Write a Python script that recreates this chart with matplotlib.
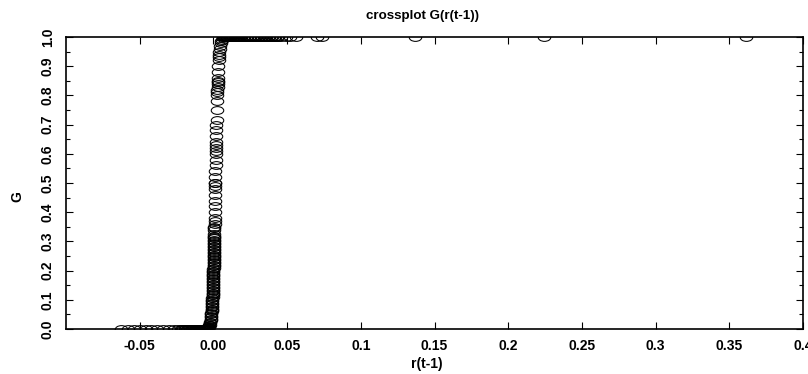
import matplotlib
matplotlib.use("Agg")
import matplotlib.pyplot as plt
from matplotlib.path import Path
from matplotlib.ticker import MultipleLocator, FixedLocator, FixedFormatter

plt.rcParams['font.family'] = ['Liberation Sans', 'DejaVu Sans']

# G close to 0, left side
r_low = [-0.0625, -0.058, -0.054, -0.050, -0.046, -0.042, -0.038, -0.034, -0.030,
         -0.027, -0.024, -0.022, -0.021, -0.0205, -0.0195, -0.019, -0.018, -0.0178,
         -0.017, -0.0165, -0.016, -0.0153, -0.0148, -0.0142, -0.0136, -0.0131, -0.0125,
         -0.012, -0.0115, -0.011, -0.0105, -0.0101, -0.0096, -0.0092, -0.0088, -0.0083,
         -0.0079, -0.0075, -0.0071, -0.0067, -0.0063, -0.006, -0.0056, -0.0053, -0.005,
         -0.0047, -0.0044, -0.0041]
g_low = [0.0] * len(r_low)

# transition column
r_mid = [-0.0036, -0.0029, -0.0023, -0.0019, -0.0016, -0.0014, -0.0012, -0.0011,
         -0.0009, -0.0008, -0.0007, -0.0005, -0.0004, -0.0002, -0.0001, 0.0000,
         0.0001, 0.0002, 0.0003, 0.0004, 0.0005, 0.0006, 0.0007, 0.0008, 0.0008,
         0.0009, 0.0010, 0.0011, 0.0012, 0.0012, 0.0013, 0.0014, 0.0014,
         0.0015, 0.0016, 0.0017, 0.0018, 0.0018, 0.0019, 0.0020, 0.0021, 0.0022,
         0.0023, 0.0025, 0.0026, 0.0027, 0.0028, 0.0030, 0.0031, 0.0033, 0.0035,
         0.0038, 0.0042, 0.0049, 0.0055, 0.0062]
g_mid = [0.005, 0.01, 0.02, 0.03, 0.04, 0.05, 0.06, 0.07,
         0.08, 0.09, 0.10, 0.12, 0.14, 0.16, 0.18, 0.20,
         0.22, 0.24, 0.26, 0.28, 0.30, 0.32, 0.34, 0.36, 0.38,
         0.40, 0.42, 0.44, 0.46, 0.48, 0.50, 0.52, 0.54,
         0.56, 0.58, 0.60, 0.62, 0.64, 0.66, 0.68, 0.70, 0.715,
         0.75, 0.78, 0.80, 0.82, 0.84, 0.86, 0.88, 0.90, 0.92,
         0.94, 0.96, 0.98, 0.99, 0.995]

# extra points where the column is crowded
r_dense = [-0.0051, -0.0044, -0.0040, -0.0038, -0.0034, -0.0031, -0.0028, -0.0025,
           -0.0021, -0.0018, -0.0015, -0.0013, -0.0012, -0.0010, -0.0009, -0.0008,
           -0.0007, -0.0006, -0.0006, -0.0005, -0.0004, -0.0004, -0.0003, -0.0003,
           -0.0003, -0.0002, -0.0002, -0.0001, -0.0001, 0.0000, 0.0000, 0.0000,
           0.0001, 0.0001, 0.0002, 0.0002, 0.0002, 0.0003, 0.0003, 0.0003, 0.0004,
           0.0004, 0.0004, 0.0005, 0.0005, 0.0005, 0.0006, 0.0006, 0.0006, 0.0006,
           0.0007, 0.0007, 0.0008, 0.0012, 0.0012, 0.0017, 0.0017, 0.0027, 0.0028,
           0.0028, 0.0029, 0.0036, 0.0040, 0.0045, 0.0052]
g_dense = [0.001, 0.002, 0.003, 0.004, 0.006, 0.008, 0.012, 0.015,
           0.025, 0.035, 0.045, 0.055, 0.065, 0.075, 0.085, 0.095,
           0.105, 0.11, 0.115, 0.125, 0.13, 0.135, 0.145, 0.15,
           0.155, 0.165, 0.17, 0.175, 0.185, 0.19, 0.195, 0.205,
           0.21, 0.215, 0.225, 0.23, 0.235, 0.245, 0.25, 0.255, 0.265,
           0.27, 0.275, 0.285, 0.29, 0.295, 0.305, 0.31, 0.315, 0.325,
           0.345, 0.35, 0.37, 0.49, 0.50, 0.61, 0.63, 0.81, 0.83,
           0.845, 0.85, 0.93, 0.95, 0.97, 0.985]

# G close to 1, right side
r_high = [0.0065, 0.007, 0.0075, 0.008, 0.0085, 0.009, 0.0095, 0.010, 0.0105, 0.011,
          0.0115, 0.012, 0.0125, 0.013, 0.0135, 0.014, 0.0145, 0.015, 0.0155, 0.016,
          0.0165, 0.017, 0.0175, 0.018, 0.019, 0.020, 0.021, 0.022, 0.023, 0.024,
          0.025, 0.026, 0.027, 0.028, 0.029, 0.030, 0.031, 0.032, 0.033, 0.034,
          0.035, 0.036, 0.037, 0.038, 0.039, 0.040, 0.041, 0.042, 0.043, 0.044,
          0.046, 0.049, 0.052, 0.056, 0.070, 0.074, 0.137, 0.224, 0.361]
g_high = [1.0] * len(r_high)

x_ticks = [-0.05, 0.0, 0.05, 0.1, 0.15, 0.2, 0.25, 0.3, 0.35, 0.4]
x_labels = ['-0.05', '0.00', '0.05', '0.1', '0.15', '0.2', '0.25', '0.3', '0.35', '0.4']

# flattened circle marker like the original
circ = Path.unit_circle()
ell = Path(circ.vertices * [1.0, 0.62], circ.codes)

fig = plt.figure(figsize=(8.08, 3.74), dpi=100)
ax = fig.add_axes([66 / 808, 1 - 329 / 374, 737 / 808, 292 / 374])

for xs, ys in [(r_low, g_low), (r_mid, g_mid), (r_dense, g_dense), (r_high, g_high)]:
    ax.plot(xs, ys, linestyle='none', marker=ell, markersize=9,
            markerfacecolor='none', markeredgecolor='black', markeredgewidth=0.75)

ax.set_xlim(-0.1, 0.4)
ax.set_ylim(0, 1.0)
ax.xaxis.set_major_locator(FixedLocator(x_ticks))
ax.xaxis.set_major_formatter(FixedFormatter(x_labels))
ax.yaxis.set_major_locator(MultipleLocator(0.1))
ax.yaxis.set_minor_locator(MultipleLocator(0.05))
ax.yaxis.set_major_formatter(plt.FormatStrFormatter('%.1f'))

ax.tick_params(which='both', direction='in', top=True, right=True, width=0.8)
ax.tick_params(which='major', length=5, labelsize=10)
ax.tick_params(which='minor', length=3)
ax.tick_params(axis='x', pad=7)
ax.tick_params(axis='y', pad=8)
for lbl in ax.get_xticklabels() + ax.get_yticklabels():
    lbl.set_fontweight('bold')
for lbl in ax.get_yticklabels():
    lbl.set_rotation(90)
    lbl.set_va('center')
for s in ax.spines.values():
    s.set_linewidth(1.2)

fig.text(422 / 808, 1 - 16 / 374, 'crossplot G(r(t-1))', fontsize=9.6,
         fontweight='bold', ha='center', va='center')
fig.text(427 / 808, 1 - 364 / 374, 'r(t-1)', fontsize=10,
         fontweight='bold', ha='center', va='center')
fig.text(17 / 808, 1 - 197 / 374, 'G', fontsize=10, fontweight='bold',
         rotation=90, ha='center', va='center')

fig.savefig('out.png', dpi=100)
